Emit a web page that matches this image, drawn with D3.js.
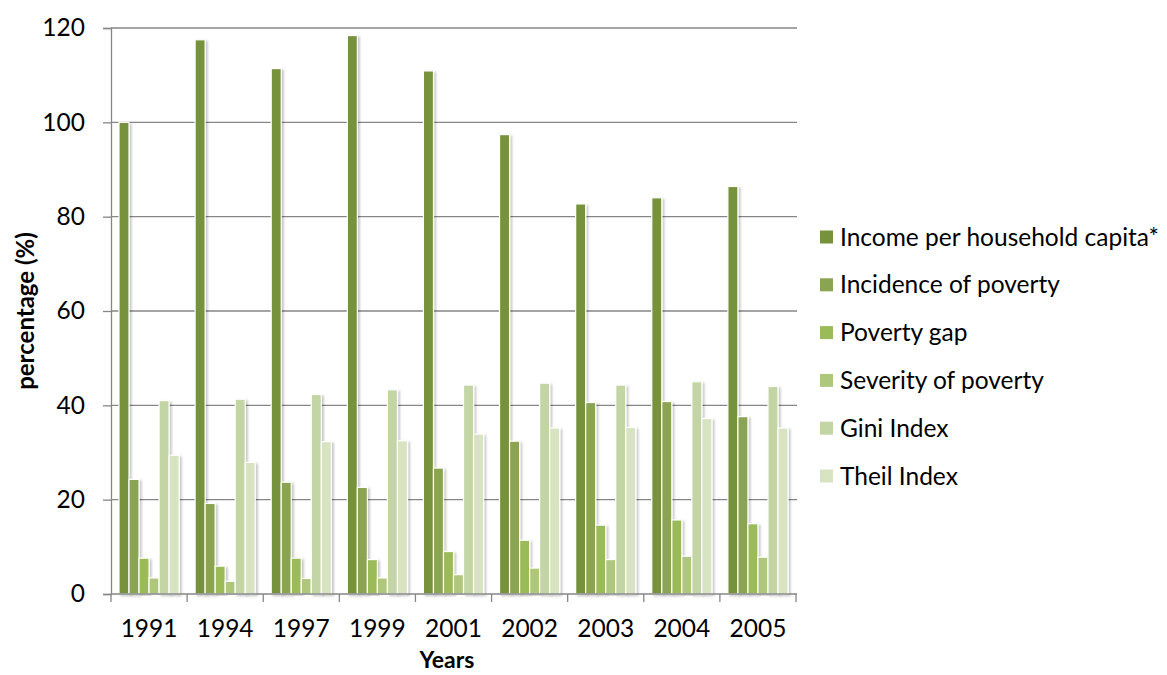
<!DOCTYPE html>
<html>
<head>
<meta charset="utf-8">
<script src="https://cdn.jsdelivr.net/npm/d3@7"></script>
<style>
  html, body { margin: 0; padding: 0; background: #ffffff; }
  svg { display: block; font-family: Lato, "Open Sans", sans-serif; }
</style>
</head>
<body>
<svg id="chart" width="1167" height="675"></svg>
<script>
// Poverty and inequality indicators by survey year
const years = ["1991", "1994", "1997", "1999", "2001", "2002", "2003", "2004", "2005"];
const seriesNames = [
  "Income per household capita*",
  "Incidence of poverty",
  "Poverty gap",
  "Severity of poverty",
  "Gini Index",
  "Theil Index"
];
const incomePerCapita    = [100.0, 117.5, 111.4, 118.4, 110.9, 97.4, 82.7, 84.0, 86.4];
const incidenceOfPoverty = [24.3, 19.2, 23.7, 22.6, 26.7, 32.4, 40.6, 40.8, 37.6];
const povertyGap         = [7.6, 5.9, 7.6, 7.3, 9.0, 11.4, 14.6, 15.7, 14.9];
const severityOfPoverty  = [3.4, 2.7, 3.3, 3.4, 4.1, 5.5, 7.3, 8.0, 7.8];
const giniIndex          = [41.0, 41.3, 42.3, 43.3, 44.3, 44.7, 44.3, 45.0, 44.0];
const theilIndex         = [29.4, 27.9, 32.3, 32.5, 33.9, 35.2, 35.3, 37.2, 35.2];
const yTicks = [0, 20, 40, 60, 80, 100, 120];

const seriesValues = [incomePerCapita, incidenceOfPoverty, povertyGap,
                      severityOfPoverty, giniIndex, theilIndex];
const colors = ["#76923C", "#8AA451", "#9BBB59", "#AFC77D", "#C3D4A5", "#D7E3C1"];

const svg = d3.select("#chart");
const plot = { left: 111, right: 796, top: 28, bottom: 594 };
const axisColor = "#868686";
const fontSize = 24.5;

// Soft drop shadow on bars
const defs = svg.append("defs");
const shadow = defs.append("filter").attr("id", "barShadow")
  .attr("x", "-50%").attr("y", "-5%").attr("width", "200%").attr("height", "110%");
shadow.append("feDropShadow")
  .attr("dx", 2).attr("dy", 1.5).attr("stdDeviation", 1.3)
  .attr("flood-color", "#000").attr("flood-opacity", 0.22);

const x = d3.scaleBand().domain(years).range([plot.left, plot.right]).padding(0);
const inner = d3.scaleBand().domain(d3.range(seriesNames.length))
  .range([x.bandwidth() * 0.105, x.bandwidth() * 0.895]).padding(0);
const y = d3.scaleLinear().domain([0, 120]).range([plot.bottom, plot.top]);

// Horizontal gridlines
svg.append("g")
  .selectAll("line").data(yTicks.filter(d => d > 0)).join("line")
  .attr("x1", plot.left).attr("x2", plot.right + 1)
  .attr("y1", d => y(d)).attr("y2", d => y(d))
  .attr("stroke", axisColor).attr("stroke-width", 1.3);

// Y axis
const yAxis = svg.append("g").attr("transform", `translate(${plot.left},0)`)
  .call(d3.axisLeft(y).tickValues(yTicks).tickSize(8).tickPadding(18));
yAxis.select(".domain").attr("stroke", axisColor).attr("stroke-width", 1.3);
yAxis.selectAll(".tick line").attr("stroke", axisColor).attr("stroke-width", 1.3);
yAxis.selectAll(".tick text").attr("font-size", fontSize).attr("fill", "#000")
  .attr("font-family", "Lato, sans-serif");

// Bars
const groups = svg.append("g").selectAll("g").data(years).join("g")
  .attr("transform", d => `translate(${x(d)},0)`);
groups.selectAll("rect")
  .data((yr, i) => seriesValues.map((vals, s) => ({ s, v: vals[i] })))
  .join("rect")
  .attr("x", d => inner(d.s))
  .attr("width", inner.bandwidth())
  .attr("y", d => y(d.v))
  .attr("height", d => y(0) - y(d.v))
  .attr("fill", d => colors[d.s])
  .attr("stroke", "#ffffff").attr("stroke-width", 1.2)
  .attr("filter", "url(#barShadow)");

// X axis with ticks between categories
const xAxisG = svg.append("g").attr("transform", `translate(0,${plot.bottom})`);
xAxisG.append("line")
  .attr("x1", plot.left).attr("x2", plot.right + 1)
  .attr("stroke", axisColor).attr("stroke-width", 1.3);
const boundaries = years.map(d => x(d)).concat([x(years[years.length - 1]) + x.bandwidth()]);
xAxisG.selectAll("line.tk").data(boundaries).join("line").attr("class", "tk")
  .attr("x1", d => d).attr("x2", d => d).attr("y1", 0).attr("y2", 8)
  .attr("stroke", axisColor).attr("stroke-width", 1.3);
xAxisG.selectAll("text").data(years).join("text")
  .attr("x", d => x(d) + x.bandwidth() / 2).attr("y", 43)
  .attr("text-anchor", "middle").attr("font-size", fontSize).attr("fill", "#000")
  .text(d => d);

// Axis titles
svg.append("text")
  .attr("transform", `translate(34,${(plot.top + plot.bottom) / 2}) rotate(-90)`)
  .attr("text-anchor", "middle").attr("font-size", 24).attr("font-weight", "bold")
  .text("percentage (%)");
svg.append("text")
  .attr("x", 447).attr("y", 668)
  .attr("text-anchor", "middle").attr("font-size", 23).attr("font-weight", "bold")
  .text("Years");

// Legend
const legend = svg.append("g").attr("transform", "translate(820,237)");
const items = legend.selectAll("g").data(seriesNames).join("g")
  .attr("transform", (d, i) => `translate(0,${i * 47.8})`);
items.append("rect")
  .attr("x", 0).attr("y", -6.5).attr("width", 13).attr("height", 13)
  .attr("fill", (d, i) => colors[i]);
items.append("text")
  .attr("x", 20).attr("y", 0).attr("dy", "0.35em")
  .attr("font-size", fontSize).attr("fill", "#000")
  .text(d => d);
</script>
</body>
</html>
